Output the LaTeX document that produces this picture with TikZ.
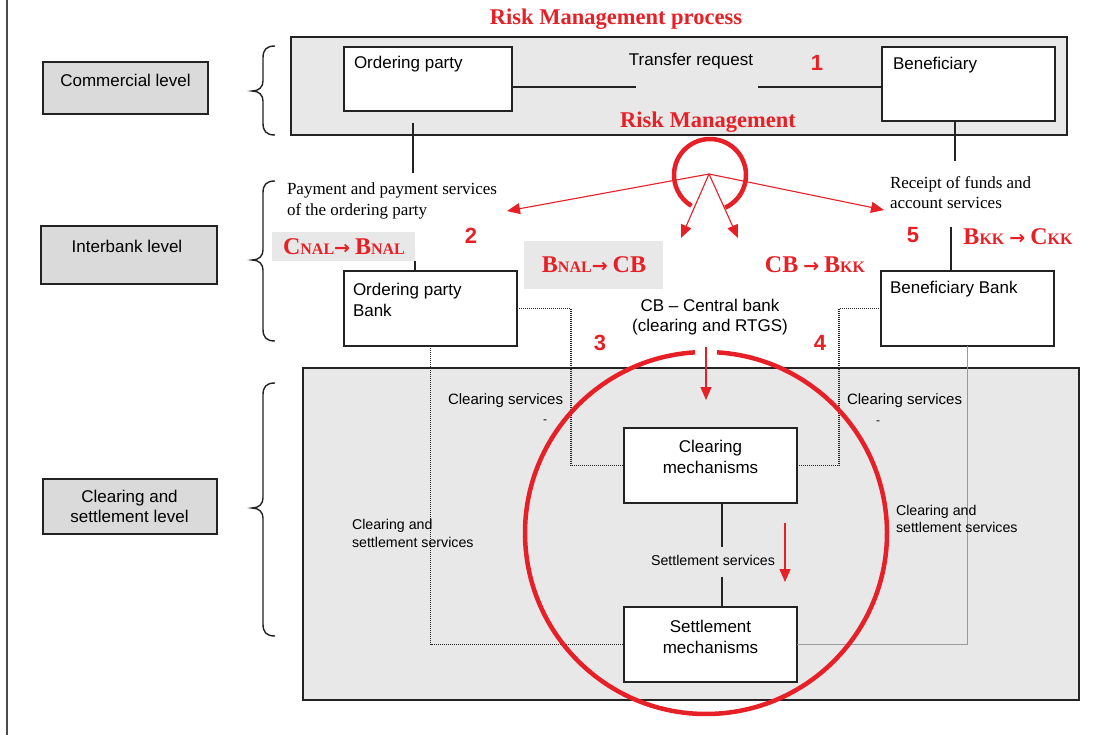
\documentclass[tikz,border=0pt]{standalone}
\usepackage{fontspec}
\setmainfont{Liberation Sans}
\newfontfamily\seriffont{Liberation Serif}
\newfontfamily\arrowfont{DejaVu Sans}
\usetikzlibrary{arrows.meta}

\definecolor{rmred}{RGB}{230,32,38}
\definecolor{panelgrey}{RGB}{232,232,232}
\definecolor{levelgrey}{RGB}{218,218,218}
\definecolor{edge}{RGB}{35,35,35}

\newcommand{\fs}[2]{\fontsize{#1}{#2}\selectfont}
% fake small caps: large initial, smaller capitals
\newcommand{\capbig}[1]{{\fs{24}{24}#1}}
\newcommand{\capsml}[1]{{\fs{16}{16}#1}}
\newcommand{\flowarrow}{{\arrowfont\bfseries\fs{19}{19}→}}

% curly brace opening to the right: top y, tip y, bottom y
\newcommand{\levelbrace}[3]{%
  \draw[brace] (275,#1) .. controls (266,#1) and (263,#1+4) .. (263,#1+12)
    -- (263,#2-10) .. controls (263,#2-4) and (259,#2) .. (252,#2)
    .. controls (259,#2) and (263,#2+4) .. (263,#2+10)
    -- (263,#3-12) .. controls (263,#3-4) and (266,#3) .. (275,#3);}

\begin{document}
\begin{tikzpicture}[x=1pt,y=-1pt,
  every node/.style={inner sep=0pt, outer sep=0pt},
  panel/.style={draw=edge, line width=1.6pt, fill=panelgrey},
  levelbox/.style={draw=edge, line width=1.6pt, fill=levelgrey},
  whitebox/.style={draw=edge, line width=1.6pt, fill=white},
  flowbox/.style={fill=panelgrey},
  boxtext/.style={font=\fs{17}{21}, align=center},
  labeltext/.style={font=\fs{17}{21}, align=left, anchor=west},
  smalltext/.style={font=\fs{14.2}{18}, align=left, anchor=west},
  serifnote/.style={font=\seriffont\fs{17}{21}, align=left, anchor=west},
  rmtitle/.style={font=\seriffont\bfseries\fs{22.5}{24}, text=rmred},
  stepno/.style={font=\bfseries\fs{22}{22}, text=rmred},
  flow/.style={font=\seriffont\bfseries\fs{20}{24}, text=rmred},
  link/.style={draw=edge, line width=1.4pt},
  dotlink/.style={draw=edge, line width=1.1pt, dash pattern=on 1pt off 1pt},
  greylink/.style={draw=black!40, line width=0.9pt},
  rmarrow/.style={draw=rmred, line width=1.1pt, -{Triangle[length=13pt,width=11pt]}},
  rmring/.style={draw=rmred, line width=4.5pt},
  brace/.style={draw=edge, line width=1.4pt},
]
\useasboundingbox (0,0) rectangle (1107,735);
\fill[white] (0,0) rectangle (1107,735);

% frame line on the left
\draw[black!70, line width=1.5pt] (7,0) -- (7,735);

% title
\node[rmtitle] (rmproc) at (616,19) {Risk Management process};

% level boxes on the left
\node[levelbox, minimum width=165, minimum height=52] (lvlcom) at (125.5,88) {};
\node[boxtext] (lvlcomtxt) at (125.5,80) {Commercial level};
\node[levelbox, minimum width=176, minimum height=58] (lvlint) at (129,255) {};
\node[boxtext] (lvlinttxt) at (127,246) {Interbank level};
\node[levelbox, minimum width=174, minimum height=55] (lvlcs) at (130,506.5) {};
\node[boxtext, font=\fs{17}{20}] (lvlcstxt) at (129.5,506) {Clearing and\\settlement level};

% braces
\levelbrace{46}{91}{135}
\levelbrace{181}{260}{341}
\levelbrace{383}{508}{636}

% grey panels
\node[panel, minimum width=776, minimum height=98] (toppanel) at (679,86) {};
\node[panel, minimum width=776, minimum height=332] (cspanel) at (691,534) {};

% commercial level
\node[whitebox, minimum width=168, minimum height=64] (op) at (428,79) {};
\node[labeltext] (optxt) at (354,64) {Ordering party};
\node[whitebox, minimum width=173, minimum height=74] (ben) at (968.5,84) {};
\node[labeltext] (bentxt) at (893,65) {Beneficiary};
\node[boxtext] (trq) at (691,61) {Transfer request};
\node[stepno] (n1) at (817,63) {1};
\coordinate (trL) at (636,87);
\coordinate (trR) at (758,87);
\draw[link] (op.east |- trL) -- (trL);
\draw[link] (trR) -- (trR -| ben.west);
\node[rmtitle] (rmlabel) at (708,122) {Risk Management};

% descending links
\coordinate (opdownA) at (413,123);
\coordinate (opdownB) at (413,173);
\draw[link] (opdownA) -- (opdownB);
\coordinate (bendown) at (955,161);
\draw[link] (bendown |- ben.south) -- (bendown);

% risk management ring and arrows
\coordinate (rmc) at (710,175);
\draw[rmring] ([shift={(-65:36pt)}]rmc) arc[start angle=-65, end angle=239, radius=36pt];
\coordinate (rmo) at (709,174);
\coordinate (tipA) at (507,211);
\coordinate (tipB) at (681,238);
\coordinate (tipC) at (738,238);
\coordinate (tipD) at (884,210);
\draw[rmarrow] (rmo) -- (tipA);
\draw[rmarrow] (rmo) -- (tipB);
\draw[rmarrow] (rmo) -- (tipC);
\draw[rmarrow] (rmo) -- (tipD);

% interbank level
\node[serifnote] (paytxt) at (287,200.5) {Payment and payment services\\of the ordering party};
\node[serifnote, font=\seriffont\fs{17}{20}] (rectxt) at (890,193) {Receipt of funds and\\account services};
\node[flowbox, minimum width=143, minimum height=29] (cnal) at (343.5,246.5) {};
\node[flow] (cnaltxt) at (344,247) {\capbig{C}\capsml{NAL}\flowarrow\ \capbig{B}\capsml{NAL}};
\node[stepno] (n2) at (471,236) {2};
\node[flowbox, minimum width=139, minimum height=48] (bnal) at (593.5,265) {};
\node[flow] (bnaltxt) at (594,265) {\capbig{B}\capsml{NAL}\flowarrow\ \capbig{CB}};
\node[flow] (cbbkk) at (815,265) {\capbig{CB} \flowarrow\ \capbig{B}\capsml{KK}};
\node[stepno] (n5) at (913,235) {5};
\node[flow] (bkkckk) at (1018,237) {\capbig{B}\capsml{KK} \flowarrow\ \capbig{C}\capsml{KK}};

\node[whitebox, minimum width=173, minimum height=75] (opb) at (430.5,308.5) {};
\node[labeltext] (opbtxt) at (353,299.5) {Ordering party\\Bank};
\node[whitebox, minimum width=173, minimum height=75] (bb) at (967.5,308.5) {};
\node[labeltext] (bbtxt) at (890,289) {Beneficiary Bank};
\draw[link] (cnal.south east) -- (cnal.south east |- opb.north);
\coordinate (bbup) at (951,227);
\draw[link] (bbup) -- (bbup |- bb.north);

\node[boxtext, font=\fs{17}{20}] (cbtxt) at (710,317) {CB – Central bank\\(clearing and RTGS)};
\node[stepno] (n3) at (600,343) {3};
\node[stepno] (n4) at (820,343) {4};

% clearing and settlement level
\node[whitebox, minimum width=173, minimum height=75] (cm) at (710.5,465.5) {};
\node[boxtext] (cmtxt) at (710.5,456.5) {Clearing\\mechanisms};
\node[whitebox, minimum width=173, minimum height=75] (sm) at (710.5,644.5) {};
\node[boxtext] (smtxt) at (710.5,637) {Settlement\\mechanisms};

\node[smalltext, anchor=center] (ssv) at (713,560) {Settlement services};
\coordinate (spine) at (722,560);
\draw[link] (spine |- cm.south) -- ++(0,44);
\draw[link] (spine |- sm.north) -- ++(0,-30);

% service routes
\coordinate (lbend) at (571,0);
\coordinate (rbend) at (839,0);
\draw[dotlink] (opb.south) |- (sm.west);
\draw[dotlink] (opb.east) -| (lbend |- cm.west) -- (cm.west);
\draw[dotlink] (bb.west) -| (rbend |- cm.east) -- (cm.east);
\draw[greylink] (bb.south) |- (sm.east);

\node[smalltext, font=\fs{15}{18}] (csl) at (448,401) {Clearing services};
\node[smalltext, font=\fs{15}{18}] (csr) at (847,401) {Clearing services};
\node[smalltext, font=\fs{12}{12}] (dashl) at (543,422) {-};
\node[smalltext, font=\fs{12}{12}] (dashr) at (876,423) {-};
\node[smalltext] (cssl) at (352,533) {Clearing and\\settlement services};
\node[smalltext, font=\fs{14.2}{17}] (cssr) at (896,518.5) {Clearing and\\settlement services};

% red flow arrows and ring
\coordinate (cbA) at (706,347);
\coordinate (cbB) at (706,400);
\draw[rmarrow] (cbA) -- (cbB);
\coordinate (stA) at (785,523);
\coordinate (stB) at (785,582);
\draw[rmarrow] (stA) -- (stB);
\coordinate (bigc) at (706,533);
\draw[rmring] ([shift={(93.5:181pt)}]bigc) arc[start angle=93.5, end angle=446.5, radius=181pt];
\end{tikzpicture}
\end{document}
